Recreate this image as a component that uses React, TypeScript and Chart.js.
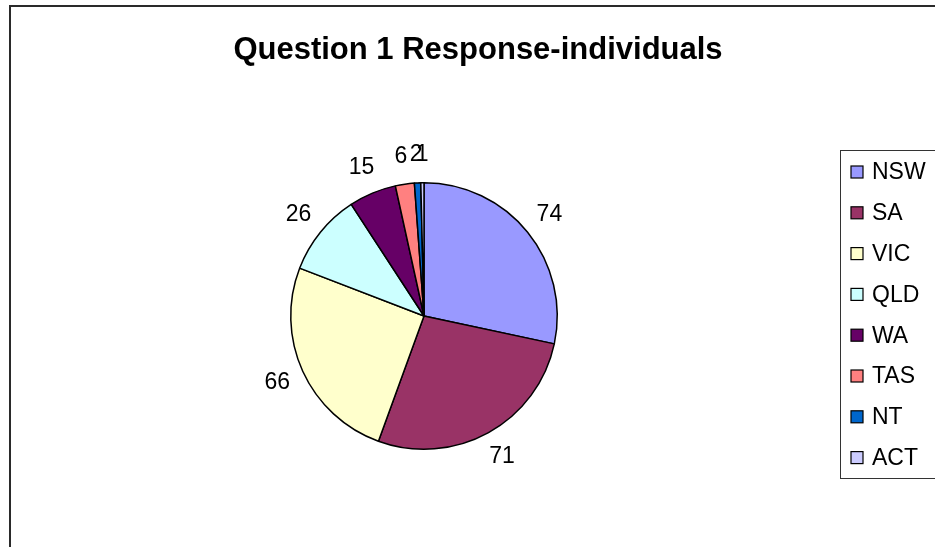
import React, { useEffect, useRef } from "react";
import { Chart, registerables } from "chart.js";

Chart.register(...registerables);

const categories = ["NSW", "SA", "VIC", "QLD", "WA", "TAS", "NT", "ACT"];
const responses = [74, 71, 66, 26, 15, 6, 2, 1];
const sliceColors = ["#9999FF", "#993366", "#FFFFCC", "#CCFFFF", "#660066", "#FF8080", "#0066CC", "#CCCCFF"];
const chartTitle = "Question 1 Response-individuals";

const FONT = '"Liberation Sans", Arial, sans-serif';

const framePlugin = {
  id: "frame",
  beforeDraw(chart: any) {
    const ctx = chart.ctx;
    ctx.save();
    ctx.fillStyle = "#ffffff";
    ctx.fillRect(0, 0, chart.width, chart.height);
    ctx.strokeStyle = "#2a2a2a";
    ctx.lineWidth = 2;
    ctx.strokeRect(10, 6, chart.width + 50, chart.height + 50);
    ctx.restore();
  },
};

const decorPlugin = {
  id: "decor",
  afterDatasetsDraw(chart: any) {
    const ctx = chart.ctx;
    const meta = chart.getDatasetMeta(0);
    const data = chart.data.datasets[0].data as number[];
    ctx.save();
    // data labels
    ctx.fillStyle = "#000";
    ctx.font = `23px ${FONT}`;
    ctx.textAlign = "center";
    ctx.textBaseline = "middle";
    meta.data.forEach((arc: any, i: number) => {
      const p = arc.getProps(["x", "y", "startAngle", "endAngle", "outerRadius"], true);
      const mid = (p.startAngle + p.endAngle) / 2;
      const d = p.outerRadius + 28;
      ctx.fillText(String(data[i]), p.x + Math.cos(mid) * d, p.y + Math.sin(mid) * d);
    });
    // title
    ctx.font = `bold 31px ${FONT}`;
    ctx.fillText(chartTitle, 478, 50);
    // legend
    ctx.strokeStyle = "#333";
    ctx.lineWidth = 1;
    ctx.strokeRect(840.5, 150.5, 200, 328);
    const labels = chart.data.labels as string[];
    const colors = chart.data.datasets[0].backgroundColor as string[];
    ctx.font = `23px ${FONT}`;
    ctx.textAlign = "left";
    labels.forEach((lab, i) => {
      const cy = 172 + i * 40.8;
      ctx.fillStyle = colors[i];
      ctx.fillRect(851, cy - 6, 12, 12);
      ctx.strokeStyle = "#000";
      ctx.lineWidth = 1.2;
      ctx.strokeRect(851, cy - 6, 12, 12);
      ctx.fillStyle = "#000";
      ctx.fillText(lab, 872, cy + 1);
    });
    ctx.restore();
  },
};

export default function App() {
  const ref = useRef<HTMLCanvasElement | null>(null);
  useEffect(() => {
    if (!ref.current) return;
    const chart = new Chart(ref.current, {
      type: "pie",
      data: {
        labels: categories,
        datasets: [
          {
            data: responses,
            backgroundColor: sliceColors,
            borderColor: "#000",
            borderWidth: 1.5,
          },
        ],
      },
      options: {
        animation: false,
        responsive: false,
        events: [],
        layout: { padding: { left: 290, right: 377, top: 182, bottom: 97 } },
        plugins: {
          legend: { display: false },
          title: { display: false },
          tooltip: { enabled: false },
        },
      },
      plugins: [framePlugin, decorPlugin],
    });
    return () => chart.destroy();
  }, []);
  return (
    <div style={{ position: "fixed", left: 0, top: 0, width: 935, height: 547 }}>
      <canvas ref={ref} width={935} height={547} style={{ width: 935, height: 547 }} />
    </div>
  );
}
